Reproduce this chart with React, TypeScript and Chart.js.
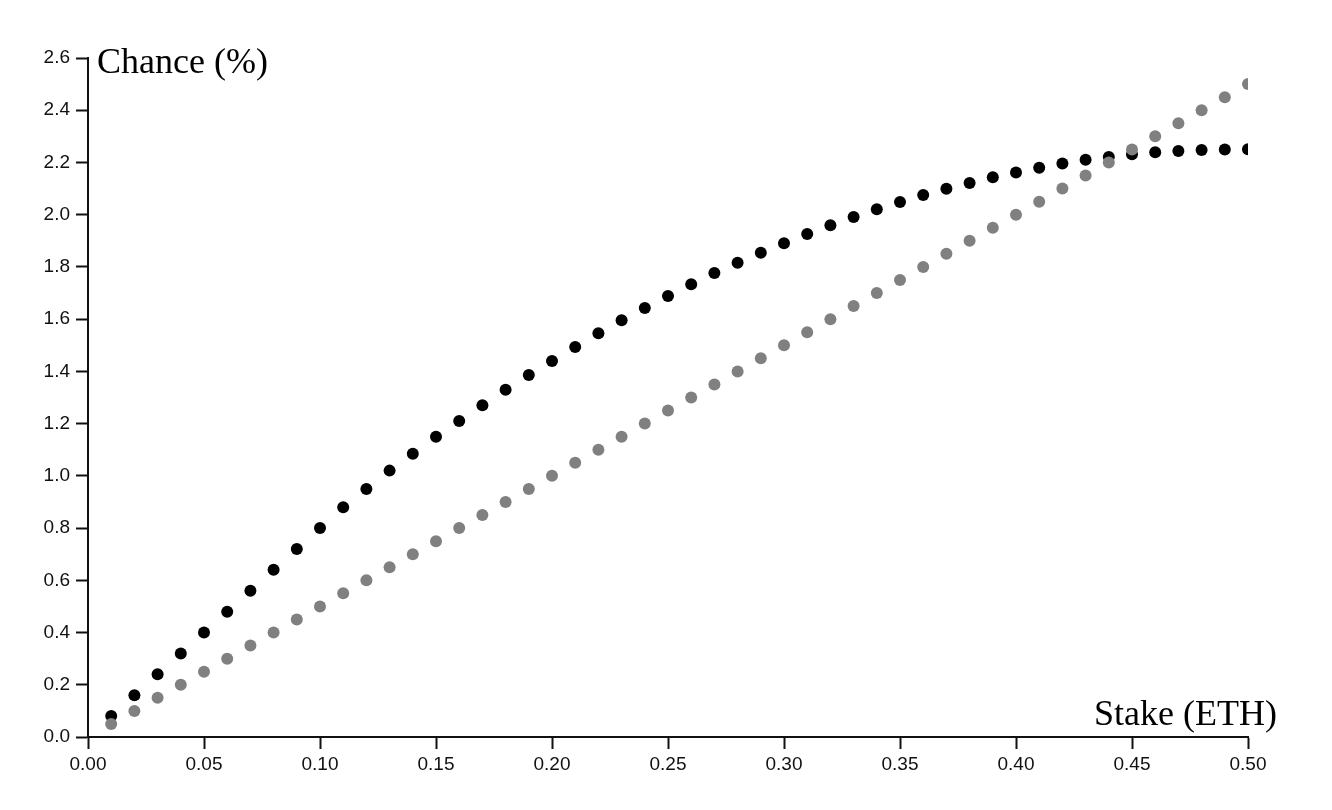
import React, { useEffect, useRef } from "react";
import { Chart, registerables } from "chart.js";

Chart.register(...registerables);

const stakes = [
  0.01, 0.02, 0.03, 0.04, 0.05, 0.06, 0.07, 0.08, 0.09, 0.1,
  0.11, 0.12, 0.13, 0.14, 0.15, 0.16, 0.17, 0.18, 0.19, 0.2,
  0.21, 0.22, 0.23, 0.24, 0.25, 0.26, 0.27, 0.28, 0.29, 0.3,
  0.31, 0.32, 0.33, 0.34, 0.35, 0.36, 0.37, 0.38, 0.39, 0.4,
  0.41, 0.42, 0.43, 0.44, 0.45, 0.46, 0.47, 0.48, 0.49, 0.5,
];

// black series
const chanceBlack = [
  0.08, 0.16, 0.24, 0.32, 0.4, 0.48, 0.56, 0.64, 0.72, 0.8,
  0.88, 0.95, 1.02, 1.085, 1.15, 1.21, 1.27, 1.33, 1.386, 1.44,
  1.493, 1.546, 1.596, 1.643, 1.689, 1.734, 1.777, 1.816, 1.854, 1.891,
  1.926, 1.96, 1.991, 2.021, 2.049, 2.075, 2.099, 2.121, 2.143, 2.162,
  2.18, 2.196, 2.21, 2.221, 2.231, 2.239, 2.244, 2.248, 2.25, 2.251,
];

// gray series
const chanceGray = [
  0.05, 0.1, 0.15, 0.2, 0.25, 0.3, 0.35, 0.4, 0.45, 0.5,
  0.55, 0.6, 0.65, 0.7, 0.75, 0.8, 0.85, 0.9, 0.95, 1.0,
  1.05, 1.1, 1.15, 1.2, 1.25, 1.3, 1.35, 1.4, 1.45, 1.5,
  1.55, 1.6, 1.65, 1.7, 1.75, 1.8, 1.85, 1.9, 1.95, 2.0,
  2.05, 2.1, 2.15, 2.2, 2.25, 2.3, 2.35, 2.4, 2.45, 2.5,
];

const xAxisTitle = "Stake (ETH)";
const yAxisTitle = "Chance (%)";
const xMin = 0;
const xMax = 0.5;
const xStep = 0.05;
const yMin = 0;
const yMax = 2.6;
const yStep = 0.2;

const titlePlugin = {
  id: "axisTitles",
  afterDraw(chart: any) {
    const { ctx, chartArea } = chart;
    ctx.save();
    ctx.fillStyle = "#000";
    ctx.font = "36px 'Liberation Serif'";
    ctx.textBaseline = "alphabetic";
    ctx.textAlign = "left";
    ctx.fillText(yAxisTitle, chartArea.left + 9, chartArea.top + 15);
    ctx.textAlign = "right";
    ctx.fillText(xAxisTitle, chartArea.right + 29, chartArea.bottom - 12);
    ctx.restore();
  },
};

export default function App() {
  const ref = useRef<HTMLCanvasElement | null>(null);
  useEffect(() => {
    if (!ref.current) return;
    const tickFont = { family: "'Liberation Sans', Arial, sans-serif", size: 19 };
    const chart = new Chart(ref.current, {
      type: "scatter",
      data: {
        datasets: [
          {
            label: "gray",
            data: stakes.map((x, i) => ({ x, y: chanceGray[i] })),
            backgroundColor: "#808080",
            borderWidth: 0,
            pointRadius: 6,
            pointHoverRadius: 6,
            order: 0,
          },
          {
            label: "black",
            data: stakes.map((x, i) => ({ x, y: chanceBlack[i] })),
            backgroundColor: "#000000",
            borderWidth: 0,
            pointRadius: 6,
            pointHoverRadius: 6,
            order: 1,
          },
        ],
      },
      options: {
        responsive: false,
        animation: false,
        layout: { padding: { top: 58, right: 84, left: 0, bottom: 0 } },
        plugins: {
          legend: { display: false },
          tooltip: { enabled: false },
        },
        scales: {
          x: {
            type: "linear",
            min: xMin,
            max: xMax,
            afterFit: (s: any) => {
              s.height = 73;
            },
            ticks: {
              stepSize: xStep,
              color: "#111",
              font: tickFont,
              padding: 4,
              maxRotation: 0,
              callback: (v: any) => Number(v).toFixed(2),
            },
            grid: {
              display: true,
              drawOnChartArea: false,
              drawTicks: true,
              tickLength: 12,
              tickColor: "#111",
              tickWidth: 2,
            },
            border: { display: true, color: "#111", width: 2 },
          },
          y: {
            type: "linear",
            min: yMin,
            max: yMax,
            afterFit: (s: any) => {
              s.width = 88;
            },
            ticks: {
              stepSize: yStep,
              color: "#111",
              font: tickFont,
              padding: 6,
              callback: (v: any) => Number(v).toFixed(1),
            },
            grid: {
              display: true,
              drawOnChartArea: false,
              drawTicks: true,
              tickLength: 12,
              tickColor: "#111",
              tickWidth: 2,
            },
            border: { display: true, color: "#111", width: 2 },
          },
        },
      },
      plugins: [titlePlugin],
    });
    return () => chart.destroy();
  }, []);
  return (
    <canvas
      ref={ref}
      width={1332}
      height={810}
      style={{ position: "absolute", left: 0, top: 0, display: "block" }}
    />
  );
}
